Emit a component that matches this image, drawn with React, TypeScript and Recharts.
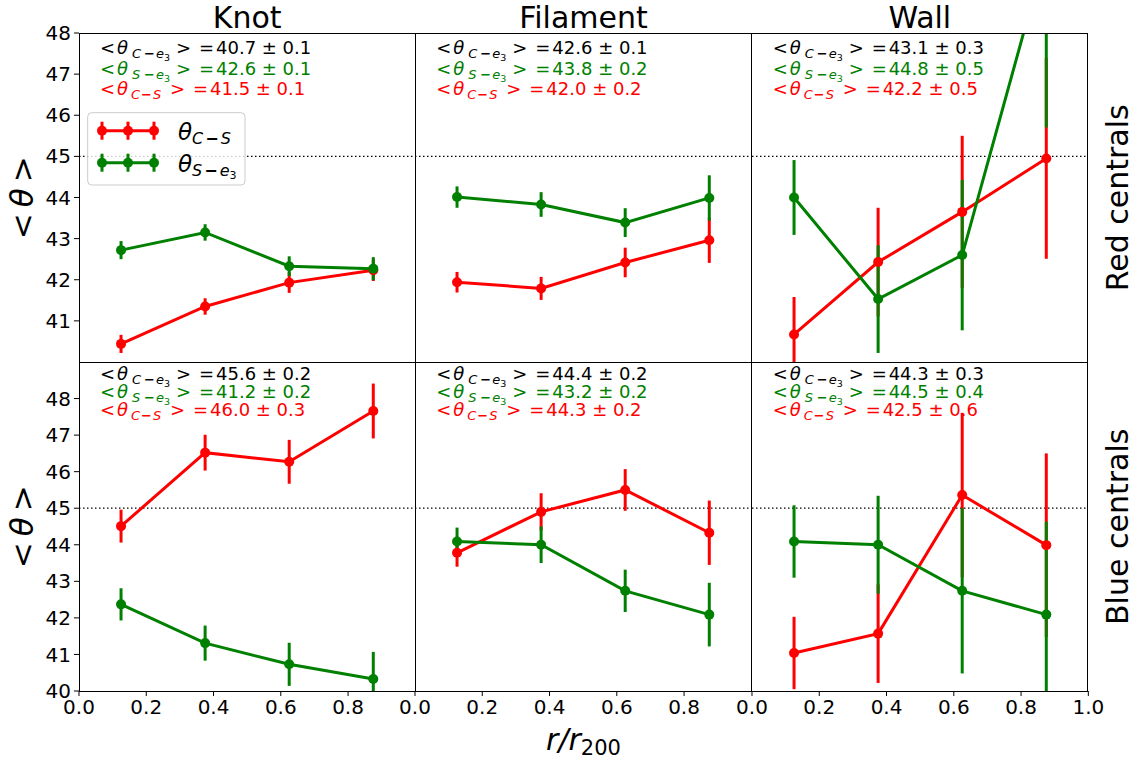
import React from "react"
import { LineChart, Line, XAxis, YAxis, ErrorBar, ReferenceLine } from "recharts"

// bin centres in r/r200
const radii = [0.125, 0.375, 0.625, 0.875]
const envNames = ["Knot", "Filament", "Wall"]
const rowNames = ["Red centrals", "Blue centrals"]

// red centrals: one list per environment (Knot, Filament, Wall)
const redCS = [
  [40.44, 41.35, 41.93, 42.23],
  [41.94, 41.79, 42.42, 42.96],
  [40.67, 42.43, 43.65, 44.95],
]
const redCSErr = [
  [0.22, 0.2, 0.25, 0.26],
  [0.25, 0.28, 0.36, 0.55],
  [0.91, 1.32, 1.85, 2.44],
]
const redSE = [
  [42.72, 43.15, 42.33, 42.27],
  [44.01, 43.83, 43.39, 43.99],
  [44.0, 41.53, 42.6, 50.0],
]
const redSEErr = [
  [0.22, 0.2, 0.24, 0.28],
  [0.26, 0.3, 0.35, 0.55],
  [0.91, 1.31, 1.83, 4.3],
]

// blue centrals
const blueCS = [
  [44.51, 46.52, 46.27, 47.66],
  [43.78, 44.9, 45.5, 44.33],
  [41.04, 41.57, 45.36, 43.99],
]
const blueCSErr = [
  [0.45, 0.49, 0.6, 0.75],
  [0.38, 0.51, 0.57, 0.88],
  [0.99, 1.35, 2.25, 2.51],
]
const blueSE = [
  [42.37, 41.31, 40.73, 40.33],
  [44.09, 44.0, 42.74, 42.09],
  [44.09, 44.0, 42.74, 42.09],
]
const blueSEErr = [
  [0.44, 0.48, 0.59, 0.74],
  [0.38, 0.5, 0.58, 0.87],
  [0.99, 1.34, 2.26, 2.54],
]

// mean angles written in each panel: [C-e3, S-e3, C-S]
const redStats = [
  ["40.7 ± 0.1", "42.6 ± 0.1", "41.5 ± 0.1"],
  ["42.6 ± 0.1", "43.8 ± 0.2", "42.0 ± 0.2"],
  ["43.1 ± 0.3", "44.8 ± 0.5", "42.2 ± 0.5"],
]
const blueStats = [
  ["45.6 ± 0.2", "41.2 ± 0.2", "46.0 ± 0.3"],
  ["44.4 ± 0.2", "43.2 ± 0.2", "44.3 ± 0.2"],
  ["44.3 ± 0.3", "44.5 ± 0.4", "42.5 ± 0.6"],
]

const yDomains = [[40, 48], [40, 49]]
const yTicks = [
  [41, 42, 43, 44, 45, 46, 47, 48],
  [40, 41, 42, 43, 44, 45, 46, 47, 48],
]

const RED = "#ff0000"
const GREEN = "#008000"
const FONT = "DejaVu Sans"

// layout (px)
const PL = 79
const PT = 33.3
const CW = 336.33
const RH = 329
const YW = 79
const XH = 45
const PAD = 20

function Panel({ r, c }: { r: number; c: number }) {
  const cs = r === 0 ? redCS[c] : blueCS[c]
  const csErr = r === 0 ? redCSErr[c] : blueCSErr[c]
  const se = r === 0 ? redSE[c] : blueSE[c]
  const seErr = r === 0 ? redSEErr[c] : blueSEErr[c]
  const data = radii.map((x, i) => ({ x, cs: cs[i], csErr: csErr[i], se: se[i], seErr: seErr[i] }))

  const yw = c === 0 ? YW : 0
  const left = PL + c * CW - PAD - yw
  const top = PT + r * RH - PAD
  const width = CW + 2 * PAD + yw
  const height = RH + 2 * PAD + (r === 1 ? XH : 0)

  return (
    <>
      {/* axes: ticks only, outside the plot */}
      <div style={{ position: "absolute", left, top }}>
        <LineChart width={width} height={height} data={data} margin={{ top: PAD, right: PAD, bottom: PAD, left: PAD }}>
          <XAxis
            dataKey="x"
            type="number"
            domain={[0, 1]}
            ticks={c === 2 ? [0, 0.2, 0.4, 0.6, 0.8, 1] : [0, 0.2, 0.4, 0.6, 0.8]}
            interval={0}
            hide={r === 0}
            height={XH}
            axisLine={false}
            tickLine={{ stroke: "#000" }}
            tickSize={5}
            tickMargin={4}
            tick={{ fill: "#000", fontSize: 20, fontFamily: FONT }}
            tickFormatter={(v: number) => v.toFixed(1)}
          />
          <YAxis
            type="number"
            domain={yDomains[r]}
            allowDataOverflow
            ticks={yTicks[r]}
            interval={0}
            hide={c !== 0}
            width={YW}
            axisLine={false}
            tickLine={{ stroke: "#000" }}
            tickSize={5}
            tickMargin={3}
            tick={{ fill: "#000", fontSize: 20, fontFamily: FONT }}
          />
        </LineChart>
      </div>
      {/* data: exactly the plot box, so the svg clips overflow */}
      <div style={{ position: "absolute", left: PL + c * CW, top: PT + r * RH }}>
        <LineChart width={CW} height={RH} data={data} margin={{ top: 0, right: 0, bottom: 0, left: 0 }}>
          <XAxis dataKey="x" type="number" domain={[0, 1]} hide />
          <YAxis type="number" domain={yDomains[r]} allowDataOverflow hide />
          <ReferenceLine y={45} stroke="#000" strokeWidth={1.3} strokeDasharray="1.5 2.5" />
          <Line
            dataKey="cs"
            stroke={RED}
            strokeWidth={3}
            dot={{ r: 5, fill: RED, stroke: RED, strokeWidth: 0 }}
            activeDot={false}
            isAnimationActive={false}
          >
            <ErrorBar dataKey="csErr" direction="y" width={0} stroke={RED} strokeWidth={3} />
          </Line>
          <Line
            dataKey="se"
            stroke={GREEN}
            strokeWidth={3}
            dot={{ r: 5, fill: GREEN, stroke: GREEN, strokeWidth: 0 }}
            activeDot={false}
            isAnimationActive={false}
          >
            <ErrorBar dataKey="seErr" direction="y" width={0} stroke={GREEN} strokeWidth={3} />
          </Line>
        </LineChart>
      </div>
    </>
  )
}

// one line of mathtext-like annotation, e.g. <θ_{C-e3}> = 40.7 ± 0.1
function Stat({ x, y, color, a, b, e3, val }: any) {
  const fs = 18
  const sub = 13
  const p = e3
    ? { th: 17, a: 32, m: 44, b: 56, gt: 76, eq: 99, v: 116 }
    : { th: 17, a: 31, m: 41, b: 53, gt: 70, eq: 93, v: 110 }
  return (
    <text y={y} fill={color} fontSize={fs} fontFamily={FONT}>
      <tspan x={x}>{"<"}</tspan>
      <tspan x={x + p.th} fontStyle="italic">θ</tspan>
      <tspan x={x + p.a} y={y + 4} fontSize={sub} fontStyle="italic">{a}</tspan>
      <tspan x={x + p.m} fontSize={sub} fontWeight="bold">−</tspan>
      <tspan x={x + p.b} fontSize={sub} fontStyle="italic">{b}</tspan>
      {e3 && <tspan y={y + 7} fontSize={9.5}>3</tspan>}
      <tspan x={x + p.gt} y={y}>{">"}</tspan>
      <tspan x={x + p.eq}>=</tspan>
      <tspan x={x + p.v}>{val}</tspan>
    </text>
  )
}

function Overlay() {
  const W = 3 * CW
  const H = 2 * RH
  return (
    <svg
      width={1139}
      height={760}
      style={{ position: "absolute", left: 0, top: 0, pointerEvents: "none" }}
      fontFamily={FONT}
    >
      {/* panel frames */}
      <g stroke="#000" strokeWidth={1} fill="none" shapeRendering="crispEdges">
        <rect x={PL} y={PT} width={W} height={H} />
        <line x1={PL + CW} y1={PT} x2={PL + CW} y2={PT + H} />
        <line x1={PL + 2 * CW} y1={PT} x2={PL + 2 * CW} y2={PT + H} />
        <line x1={PL} y1={PT + RH} x2={PL + W} y2={PT + RH} />
      </g>

      {envNames.map((n, c) => (
        <text key={n} x={PL + CW * (c + 0.5)} y={28} fontSize={30} textAnchor="middle" fill="#000">
          {n}
        </text>
      ))}

      {rowNames.map((n, r) => (
        <text
          key={n}
          transform={`translate(1128, ${PT + RH * (r + 0.5)}) rotate(-90)`}
          fontSize={30}
          textAnchor="middle"
          fill="#000"
        >
          {n}
        </text>
      ))}

      {[0, 1].map((r) => (
        <text
          key={r}
          transform={`translate(33, ${PT + RH * (r + 0.5)}) rotate(-90)`}
          fontSize={31}
          textAnchor="middle"
          fill="#000"
        >
          <tspan>{"<"}</tspan>
          <tspan dx={6} fontStyle="italic">θ</tspan>
          <tspan dx={6}>{">"}</tspan>
        </text>
      ))}

      <text x={PL + W / 2} y={750} fontSize={30} textAnchor="middle" fill="#000">
        <tspan fontStyle="italic">r/r</tspan>
        <tspan fontSize={21} dy={5}>200</tspan>
      </text>

      {/* annotations */}
      {[0, 1].map((r) =>
        [0, 1, 2].map((c) => {
          const st = r === 0 ? redStats[c] : blueStats[c]
          const x = PL + c * CW + 21
          const y0 = r === 0 ? 54 : 380
          const dy = r === 0 ? 20.6 : 18.2
          return (
            <g key={`${r}-${c}`}>
              <Stat x={x} y={y0} color="#000" a="C" b="e" e3 val={st[0]} />
              <Stat x={x} y={y0 + dy} color={GREEN} a="S" b="e" e3 val={st[1]} />
              <Stat x={x} y={y0 + 2 * dy} color={RED} a="C" b="S" val={st[2]} />
            </g>
          )
        })
      )}

      {/* legend */}
      <rect x={87.7} y={112.7} width={157.3} height={72.3} rx={4} fill="#fff" fillOpacity={0.8} stroke="#cccccc" />
      {[
        { col: RED, y: 130.7, a: "C", b: "S", e3: false },
        { col: GREEN, y: 162.7, a: "S", b: "e", e3: true },
      ].map((it) => (
        <g key={it.col}>
          <line x1={98} y1={it.y} x2={158} y2={it.y} stroke={it.col} strokeWidth={3} />
          {[102, 128, 154].map((mx) => (
            <g key={mx}>
              <line x1={mx} y1={it.y - 9} x2={mx} y2={it.y + 9} stroke={it.col} strokeWidth={3} />
              <circle cx={mx} cy={it.y} r={5} fill={it.col} />
            </g>
          ))}
          <text x={178} y={it.y + 9} fontSize={23} fill="#000">
            <tspan fontStyle="italic">θ</tspan>
            <tspan fontSize={16} dy={4} fontStyle="italic">{it.a}</tspan>
            <tspan fontSize={16} dx={2} fontWeight="bold">−</tspan>
            <tspan fontSize={16} dx={2} fontStyle="italic">{it.b}</tspan>
            {it.e3 && <tspan fontSize={11} dy={3}>3</tspan>}
          </text>
        </g>
      ))}
    </svg>
  )
}

export default function App() {
  return (
    <div style={{ position: "absolute", left: 0, top: 0, width: 1139, height: 760, background: "#fff", fontFamily: FONT }}>
      {[0, 1].map((r) => [0, 1, 2].map((c) => <Panel key={`${r}-${c}`} r={r} c={c} />))}
      <Overlay />
    </div>
  )
}
